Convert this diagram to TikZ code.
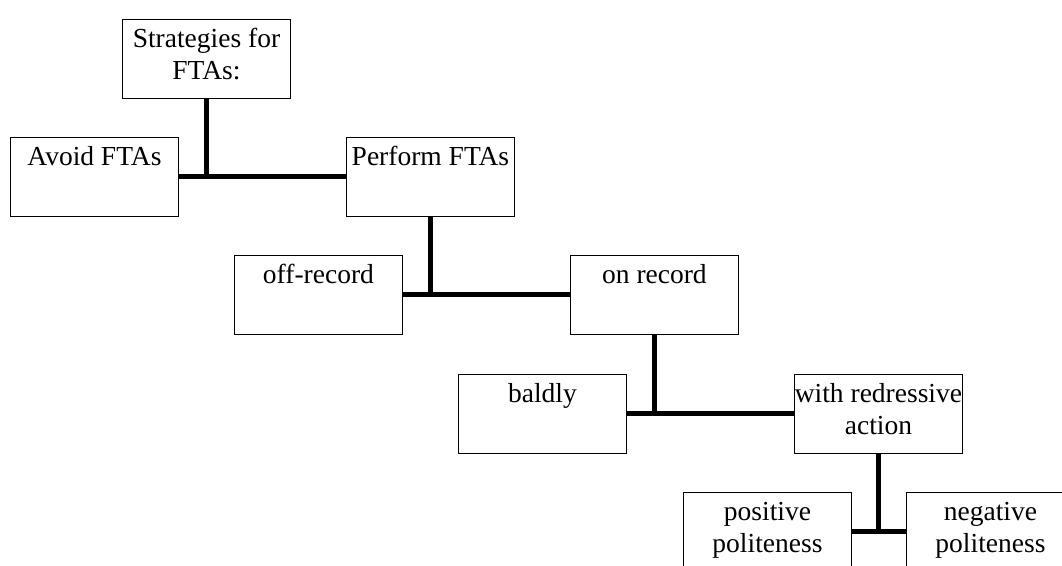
\documentclass[tikz,border=0pt]{standalone}
\usepackage{fontspec}
\setmainfont{Liberation Serif}
\begin{document}
\begin{tikzpicture}[x=1pt,y=-1pt,
  box/.style={draw=black, line width=0.9pt, anchor=north west, inner xsep=0pt, inner ysep=3pt,
    text width=168pt, align=flush center, text height=25.5pt, text depth=47.5pt,
    font=\fontsize{27.5}{32}\selectfont},
  conn/.style={line width=5pt, draw=black}]
\useasboundingbox (0,0) rectangle (1062,565);
\clip (0,0) rectangle (1062,565);
\node[box] (s) at (122,19) {Strategies for\\FTAs:};
\node[box] (avoid) at (10,137) {Avoid FTAs};
\node[box] (perform) at (346,137) {Perform FTAs};
\node[box] (off) at (234,255) {off-record};
\node[box] (on) at (570,255) {on record};
\node[box] (bald) at (458,374) {baldly};
\node[box] (redr) at (794,374) {\mbox{with redressive}\\action};
\node[box] (pos) at (683,492) {positive\\politeness};
\node[box] (neg) at (906,492) {negative\\politeness};
\draw[conn] (s.south) -- (s.south |- avoid.east);
\draw[conn] (avoid.east) -- (perform.west);
\draw[conn] (perform.south) -- (perform.south |- off.east);
\draw[conn] (off.east) -- (on.west);
\draw[conn] (on.south) -- (on.south |- bald.east);
\draw[conn] (bald.east) -- (redr.west);
\draw[conn] (redr.south) -- (redr.south |- pos.east);
\draw[conn] (pos.east) -- (neg.west);
\end{tikzpicture}
\end{document}
